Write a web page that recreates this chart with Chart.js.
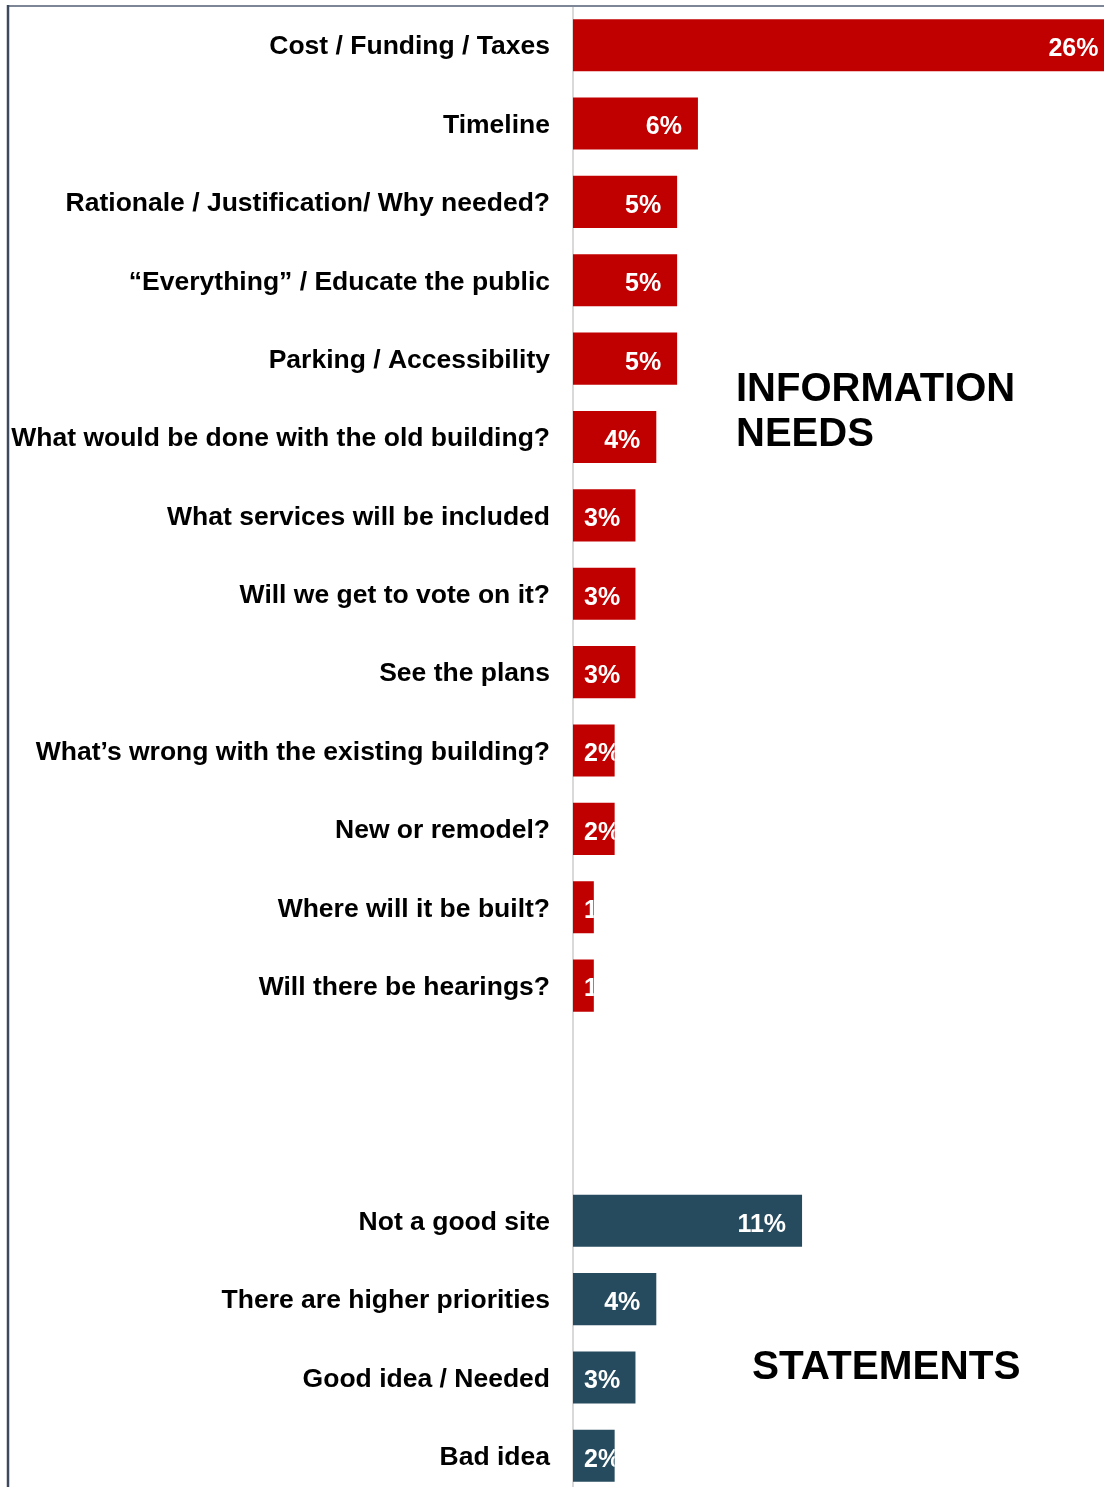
<!DOCTYPE html>
<html>
<head>
<meta charset="utf-8">
<script src="https://cdn.jsdelivr.net/npm/chart.js@4/dist/chart.umd.min.js"></script>
<style>
  html, body { margin: 0; padding: 0; background: #fff; overflow: hidden; }
  canvas { display: block; }
</style>
</head>
<body>
<canvas id="c" width="1104" height="1495"></canvas>
<script>
// Information the public asked for
const infoLabels = [
  'Cost / Funding / Taxes',
  'Timeline',
  'Rationale / Justification/ Why needed?',
  '\u201CEverything\u201D / Educate the public',
  'Parking / Accessibility',
  'What would be done with the old building?',
  'What services will be included',
  'Will we get to vote on it?',
  'See the plans',
  'What\u2019s wrong with the existing building?',
  'New or remodel?',
  'Where will it be built?',
  'Will there be hearings?'
];
const infoValues = [26, 6, 5, 5, 5, 4, 3, 3, 3, 2, 2, 1, 1];

// General statements
const statementLabels = [
  'Not a good site',
  'There are higher priorities',
  'Good idea / Needed',
  'Bad idea'
];
const statementValues = [11, 4, 3, 2];

// Two empty rows separate the groups
const spacerLabels = ['', ''];
const spacerValues = [null, null];

const groupTitles = { info: ['INFORMATION', 'NEEDS'], statements: ['STATEMENTS'] };

const RED = '#C00000';
const SLATE = '#264B5E';

const labels = [...infoLabels, ...spacerLabels, ...statementLabels];
const values = [...infoValues, ...spacerValues, ...statementValues];
const colors = [
  ...infoValues.map(() => RED),
  ...spacerValues.map(() => RED),
  ...statementValues.map(() => SLATE)
];

const FONT = '"Liberation Sans", Arial, Helvetica, sans-serif';

// Value labels sit inside the bar end; short bars clip them
const valueLabels = {
  id: 'valueLabels',
  afterDatasetsDraw(chart) {
    const ctx = chart.ctx;
    const meta = chart.getDatasetMeta(0);
    ctx.save();
    ctx.font = 'bold 25px ' + FONT;
    ctx.fillStyle = '#ffffff';
    ctx.textBaseline = 'middle';
    ctx.textAlign = 'left';
    meta.data.forEach((bar, i) => {
      const v = values[i];
      if (v == null) return;
      const { x, y, base, height } = bar.getProps(['x', 'y', 'base', 'height'], true);
      const text = v + '%';
      const w = ctx.measureText(text).width;
      const right = Math.min(x, chart.chartArea.right);
      let tx = x - 16 - w;
      if (tx < base + 11) tx = base + 11;
      ctx.save();
      ctx.beginPath();
      ctx.rect(base, y - height / 2, right - base, height);
      ctx.clip();
      ctx.fillText(text, tx, y + 4);
      ctx.restore();
    });
    ctx.restore();
  }
};

// Group titles and the frame edges
const decorations = {
  id: 'decorations',
  afterDraw(chart) {
    const ctx = chart.ctx;
    ctx.save();
    ctx.strokeStyle = '#7d8696';
    ctx.lineWidth = 2;
    ctx.beginPath();
    ctx.moveTo(8, 6);
    ctx.lineTo(chart.width, 6);
    ctx.stroke();
    ctx.strokeStyle = '#3d4a5e';
    ctx.lineWidth = 2.5;
    ctx.beginPath();
    ctx.moveTo(8, 5);
    ctx.lineTo(8, chart.height);
    ctx.stroke();

    ctx.fillStyle = '#000';
    ctx.font = 'bold 40px ' + FONT;
    ctx.textAlign = 'left';
    ctx.textBaseline = 'alphabetic';
    groupTitles.info.forEach((t, i) => ctx.fillText(t, 736, 401 + i * 45));
    ctx.font = 'bold 40.5px ' + FONT;
    groupTitles.statements.forEach((t, i) => ctx.fillText(t, 752, 1379 + i * 45));
    ctx.restore();
  }
};

new Chart(document.getElementById('c'), {
  type: 'bar',
  data: {
    labels,
    datasets: [{
      data: values,
      backgroundColor: colors,
      borderWidth: 0,
      categoryPercentage: 1,
      barPercentage: 0.665
    }]
  },
  options: {
    indexAxis: 'y',
    responsive: false,
    animation: false,
    layout: { padding: { top: 6, left: 0, right: 0, bottom: 0 } },
    plugins: { legend: { display: false }, tooltip: { enabled: false } },
    scales: {
      x: {
        display: false,
        min: 0,
        max: 25.5
      },
      y: {
        afterFit(scale) {
          scale.width = 573;
          scale.paddingTop = 0;
          scale.paddingBottom = 0;
        },
        grid: { display: false, drawTicks: false },
        border: { display: true, color: '#d9d9d9', width: 2 },
        ticks: {
          padding: 23,
          labelOffset: 2,
          color: '#000',
          autoSkip: false,
          font: { family: FONT, size: 26.5, weight: 'bold' }
        }
      }
    }
  },
  plugins: [valueLabels, decorations]
});
</script>
</body>
</html>
